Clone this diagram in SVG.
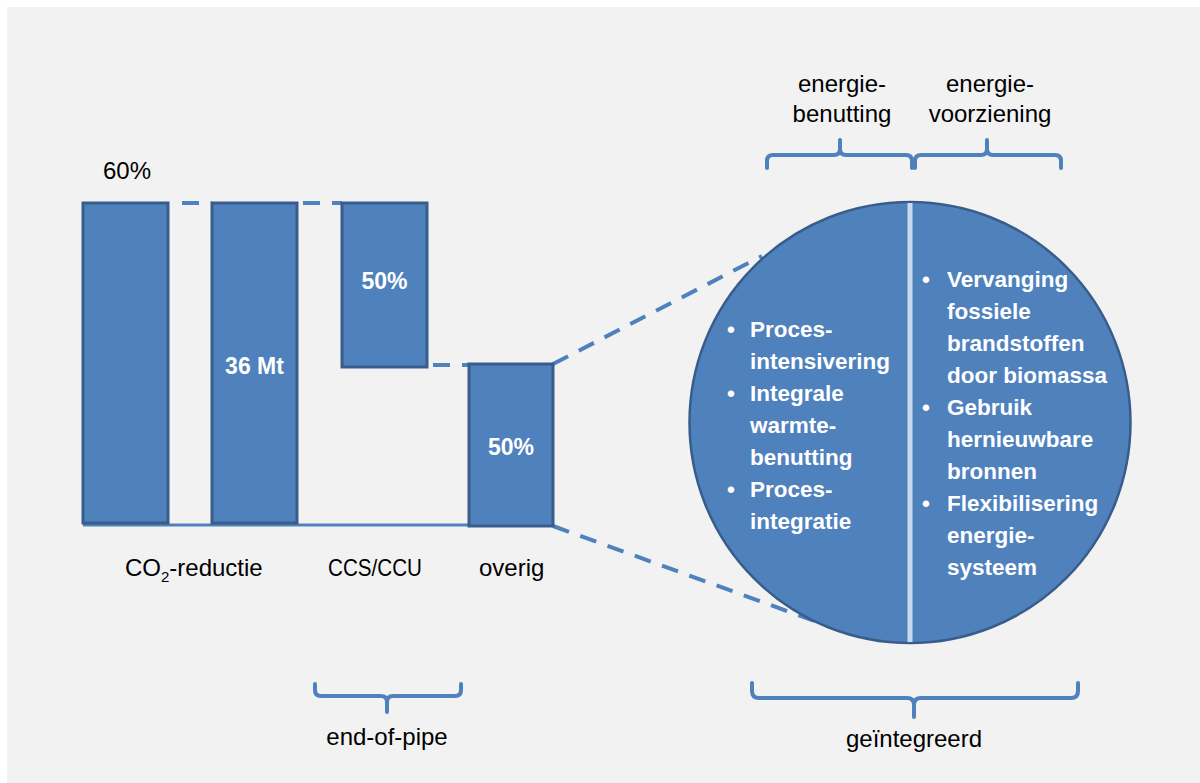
<svg xmlns="http://www.w3.org/2000/svg" width="1200" height="783" viewBox="0 0 1200 783">
<style>
.bar{fill:#4f81bd;stroke:#385d8a;stroke-width:3}
.dash{stroke:#4f81bd;stroke-width:4;fill:none;stroke-dasharray:17 12}
.brace{stroke:#4f81bd;stroke-width:4;fill:none;stroke-linecap:round;stroke-linejoin:round}
.lbl{font-family:"Liberation Sans",Arial,sans-serif;font-size:24px;fill:#000}
.val{font-family:"Liberation Sans",Arial,sans-serif;font-size:23px;font-weight:bold;fill:#fff;text-anchor:middle}
.ct{font-family:"Liberation Sans",Arial,sans-serif;font-size:22.5px;font-weight:bold;fill:#fff}
</style>
<rect x="0" y="0" width="1200" height="783" fill="#ffffff"/>
<rect x="7" y="7" width="1193" height="776" fill="#f2f2f2"/>

<g id="connectors">
  <line x1="83" y1="525" x2="553" y2="525" stroke="#4f81bd" stroke-width="3"/>
  <line class="dash" x1="170" y1="203" x2="212" y2="203" stroke-dashoffset="17"/>
  <line class="dash" x1="297" y1="203" x2="342" y2="203" stroke-dashoffset="23"/>
  <line class="dash" x1="427" y1="365" x2="469" y2="365" stroke-dashoffset="23"/>
  <line class="dash" x1="553" y1="364" x2="762" y2="256"/>
  <line class="dash" x1="553" y1="526" x2="842" y2="631"/>
</g>

<g id="bar-co2">
  <rect class="bar" x="83" y="203" width="85" height="320"/>
  <text class="lbl" x="103" y="179" font-size="23">60%</text>
</g>
<g id="bar-36mt">
  <rect class="bar" x="212" y="203" width="85" height="320"/>
  <text class="val" x="254.5" y="374" font-size="24">36 Mt</text>
</g>
<g id="bar-ccs">
  <rect class="bar" x="342" y="203" width="85" height="164"/>
  <text class="val" x="384.5" y="289">50%</text>
</g>
<g id="bar-overig">
  <rect class="bar" x="469" y="364" width="84" height="162"/>
  <text class="val" x="511" y="455">50%</text>
</g>

<g id="labels">
  <text class="lbl" x="125" y="576">CO<tspan font-size="15" dy="6">2</tspan><tspan dy="-6">-reductie</tspan></text>
  <text class="lbl" x="328" y="576" textLength="94" lengthAdjust="spacingAndGlyphs">CCS/CCU</text>
  <text class="lbl" x="479" y="576">overig</text>
</g>

<g id="circle">
  <circle cx="910" cy="422.5" r="220.5" fill="#4f81bd" stroke="#385d8a" stroke-width="2.5"/>
  <line x1="910" y1="203" x2="910" y2="642" stroke="#c6d9f1" stroke-width="5"/>
</g>

<g id="circle-left-text">
  <text class="ct" x="727" y="337">•</text>
  <text class="ct" x="750" y="337">Proces-</text>
  <text class="ct" x="750" y="369">intensivering</text>
  <text class="ct" x="727" y="401">•</text>
  <text class="ct" x="750" y="401">Integrale</text>
  <text class="ct" x="750" y="433">warmte-</text>
  <text class="ct" x="750" y="465">benutting</text>
  <text class="ct" x="727" y="497">•</text>
  <text class="ct" x="750" y="497">Proces-</text>
  <text class="ct" x="750" y="529">integratie</text>
</g>

<g id="circle-right-text">
  <text class="ct" x="922" y="287">•</text>
  <text class="ct" x="947" y="287">Vervanging</text>
  <text class="ct" x="947" y="319">fossiele</text>
  <text class="ct" x="947" y="351">brandstoffen</text>
  <text class="ct" x="947" y="383">door biomassa</text>
  <text class="ct" x="922" y="415">•</text>
  <text class="ct" x="947" y="415">Gebruik</text>
  <text class="ct" x="947" y="447">hernieuwbare</text>
  <text class="ct" x="947" y="479">bronnen</text>
  <text class="ct" x="922" y="511">•</text>
  <text class="ct" x="947" y="511">Flexibilisering</text>
  <text class="ct" x="947" y="543">energie-</text>
  <text class="ct" x="947" y="575">systeem</text>
</g>

<g id="brace-benutting">
  <path class="brace" d="M767,168 V161 Q767,155 773,155 H834 Q840,155 840,149 V140 V149 Q840,155 846,155 H906 Q912,155 912,161 V168"/>
  <text class="lbl" x="842" y="92" text-anchor="middle">energie-</text>
  <text class="lbl" x="842" y="122" text-anchor="middle">benutting</text>
</g>
<g id="brace-voorziening">
  <path class="brace" d="M915,168 V161 Q915,155 921,155 H981 Q987,155 987,149 V140 V149 Q987,155 993,155 H1055 Q1061,155 1061,161 V168"/>
  <text class="lbl" x="990" y="92" text-anchor="middle">energie-</text>
  <text class="lbl" x="990" y="122" text-anchor="middle">voorziening</text>
</g>
<g id="brace-endofpipe">
  <path class="brace" d="M315,684 V690 Q315,696 321,696 H381 Q387,696 387,702 V712 V702 Q387,696 393,696 H455 Q461,696 461,690 V684"/>
  <text class="lbl" x="387" y="745" text-anchor="middle">end-of-pipe</text>
</g>
<g id="brace-geintegreerd">
  <path class="brace" d="M752,683 V691 Q752,698 759,698 H907 Q914,698 914,705 V717 V705 Q914,698 921,698 H1071 Q1078,698 1078,691 V683"/>
  <text class="lbl" x="914" y="747" text-anchor="middle">geïntegreerd</text>
</g>
</svg>
